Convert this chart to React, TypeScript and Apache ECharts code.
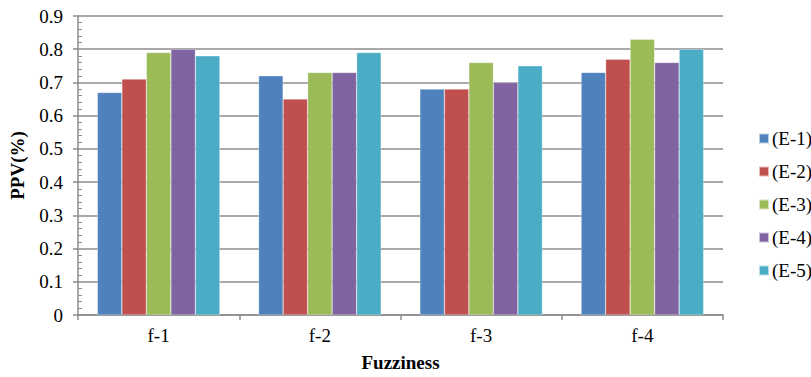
import React, { useEffect, useRef } from "react";
import * as echarts from "echarts";

const categories = ["f-1", "f-2", "f-3", "f-4"];
const seriesNames = ["(E-1)", "(E-2)", "(E-3)", "(E-4)", "(E-5)"];
const e1 = [0.67, 0.72, 0.68, 0.73];
const e2 = [0.71, 0.65, 0.68, 0.77];
const e3 = [0.79, 0.73, 0.76, 0.83];
const e4 = [0.8, 0.73, 0.7, 0.76];
const e5 = [0.78, 0.79, 0.75, 0.8];
const seriesValues = [e1, e2, e3, e4, e5];
const colors = ["#4F81BD", "#C0504D", "#9BBB59", "#8064A2", "#4BACC6"];

const FONT = "'Liberation Serif', 'Times New Roman', serif";
const GRAY = "#8c8c8c";

export default function App() {
  const ref = useRef<HTMLDivElement>(null);

  useEffect(() => {
    if (!ref.current) return;
    const chart = echarts.init(ref.current, undefined, { renderer: "svg" });
    chart.setOption({
      animation: false,
      textStyle: { fontFamily: FONT, color: "#000" },
      color: colors,
      grid: { left: 78, right: 88, top: 16, bottom: 60, containLabel: false },
      legend: {
        orient: "vertical",
        left: 753,
        top: 124,
        itemWidth: 10,
        itemHeight: 10,
        itemGap: 14,
        icon: "rect",
        data: seriesNames,
        textStyle: { fontFamily: FONT, fontSize: 19, color: "#000", lineHeight: 19, padding: [0, 0, 0, -2] },
      },
      xAxis: {
        type: "category",
        data: categories,
        name: "Fuzziness",
        nameLocation: "middle",
        nameGap: 38,
        nameTextStyle: { fontFamily: FONT, fontSize: 19, fontWeight: "bold", color: "#000" },
        axisLine: { lineStyle: { color: GRAY, width: 1.5 } },
        axisTick: { show: true, length: 5, alignWithLabel: false, lineStyle: { color: GRAY, width: 1.5 } },
        axisLabel: { fontFamily: FONT, fontSize: 19, color: "#000", margin: 11 },
        splitLine: { show: false },
      },
      yAxis: {
        type: "value",
        min: 0,
        max: 0.9,
        interval: 0.1,
        name: "PPV(%)",
        nameLocation: "middle",
        nameGap: 51,
        nameTextStyle: { fontFamily: FONT, fontSize: 19, fontWeight: "bold", color: "#000" },
        axisLine: { show: true, lineStyle: { color: GRAY, width: 1.5 } },
        axisTick: { show: true, length: 5, lineStyle: { color: GRAY, width: 1.5 } },
        minorTick: { show: true, splitNumber: 5, length: -4, lineStyle: { color: GRAY, width: 1 } },
        axisLabel: {
          fontFamily: FONT,
          fontSize: 19,
          color: "#000",
          margin: 15,
          formatter: (v: number) => (Math.round(v * 10) / 10).toString(),
        },
        splitLine: { show: true, lineStyle: { color: GRAY, width: 1.5 } },
      },
      series: seriesNames.map((name, i) => ({
        name,
        type: "bar",
        data: seriesValues[i],
        barGap: "0%",
        barCategoryGap: "24%",
        itemStyle: { color: colors[i], borderColor: "rgba(255,255,255,0.6)", borderWidth: 0.5 },
      })),
    });
    return () => chart.dispose();
  }, []);

  return <div ref={ref} style={{ width: 811, height: 377, position: "absolute", left: 0, top: 0 }} />;
}
